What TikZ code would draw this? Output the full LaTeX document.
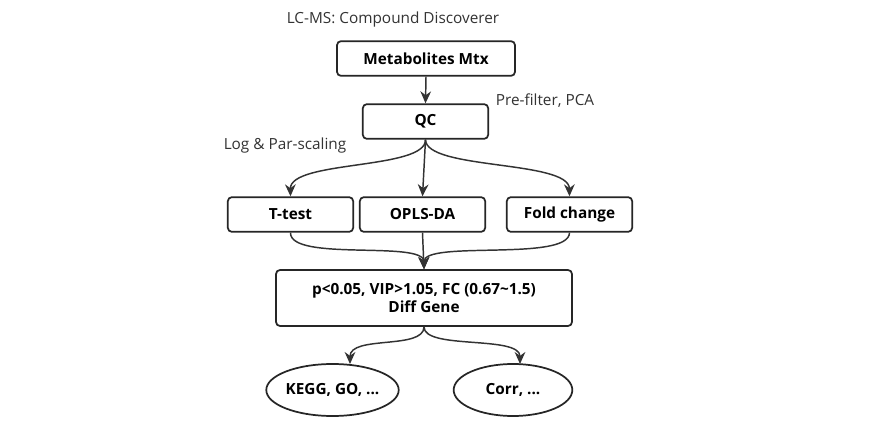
\documentclass[tikz,border=0pt]{standalone}
\usepackage{fontspec}
\setmainfont{Open Sans}
\usetikzlibrary{arrows.meta,shapes.geometric}
\begin{document}
\begin{tikzpicture}[x=0.75pt,y=-0.75pt,
  box/.style={draw=black!85,line width=1.3pt,rounded corners=3pt,fill=white,font=\bfseries\fontsize{11.5}{14}\selectfont,align=center,inner sep=0pt},
  ell/.style={draw=black!85,line width=1.3pt,ellipse,fill=white,font=\bfseries\fontsize{11.5}{14}\selectfont,inner sep=0pt},
  lab/.style={font=\fontsize{11.5}{14}\selectfont,text=black!80},
  arr/.style={draw=black!80,line width=1.1pt,-{Stealth[length=9pt,width=8pt]}}]
\useasboundingbox[fill=white] (0,0) rectangle (883,428);
\node[lab] (lc) at (393,20) {LC-MS: Compound Discoverer};
\node[box,minimum width=133.5pt,minimum height=26pt] (mtx) at (426,58.5) {Metabolites Mtx};
\node[box,minimum width=94pt,minimum height=26pt] (qc) at (425.5,121.5) {QC};
\node[lab] (pf) at (545,101) {Pre-filter, PCA};
\node[lab] (lg) at (285,146) {Log \& Par-scaling};
\node[box,minimum width=94pt,minimum height=26pt] (tt) at (290.5,214.5) {T-test};
\node[box,minimum width=94pt,minimum height=26pt] (op) at (422.5,214.5) {OPLS-DA};
\node[box,minimum width=94pt,minimum height=26pt] (fc) at (569.5,214.5) {Fold change};
\node[box,minimum width=222pt,minimum height=42pt] (pv) at (424,298) {p<0.05, VIP>1.05, FC (0.67\textasciitilde1.5)\\Diff Gene};
\node[ell,minimum width=86pt,minimum height=39pt] (kg) at (332.5,390) {KEGG, GO, ...};
\node[ell,minimum width=89pt,minimum height=39pt] (co) at (513,390) {Corr, ...};
\draw[arr] (mtx.south) -- (qc.north);
\draw[arr] (qc.south) .. controls (426,170) and (290,160) .. (tt.north);
\draw[arr] (qc.south) -- (op.north);
\draw[arr] (qc.south) .. controls (426,170) and (569,160) .. (fc.north);
\draw[arr] (tt.south) .. controls (290,262) and (424,240) .. (pv.north);
\draw[arr] (op.south) -- (pv.north);
\draw[arr] (fc.south) .. controls (569,262) and (424,240) .. (pv.north);
\draw[arr] (pv.south) .. controls (424,350) and (350,335) .. (350,364);
\draw[arr] (pv.south) .. controls (424,350) and (520,335) .. (520,364);
\end{tikzpicture}
\end{document}
